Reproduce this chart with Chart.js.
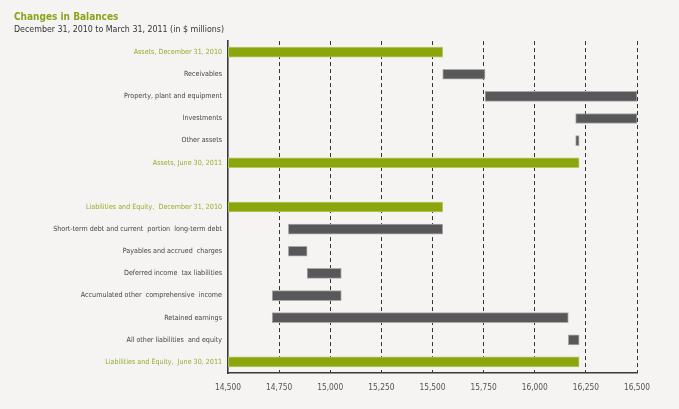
<!DOCTYPE html>
<html>
<head>
<meta charset="utf-8">
<script src="https://cdn.jsdelivr.net/npm/chart.js@4"></script>
<style>
  html, body { margin: 0; padding: 0; background: #f5f4f2; }
  #wrap { width: 679px; height: 409px; }
</style>
</head>
<body>
<div id="wrap"><canvas id="balanceChart" width="679" height="409"></canvas></div>
<script>
// Chart data
const categories = [
  'Assets, December 31, 2010',
  'Receivables',
  'Property, plant and equipment',
  'Investments',
  'Other assets',
  'Assets, June 30, 2011',
  '',
  'Liabilities and Equity,  December 31, 2010',
  'Short-term debt and current  portion  long-term debt',
  'Payables and accrued  charges',
  'Deferred income  tax liabilities',
  'Accumulated other  comprehensive  income',
  'Retained earnings',
  'All other liabilities  and equity',
  'Liabilities and Equity,  June 30, 2011'
];
const barStart = [14500, 15550, 15757, 16200, 16200, 14500, null, 14500, 14795, 14795, 14887, 14716, 14716, 16164, 14500];
const barEnd   = [15550, 15757, 16500, 16500, 16217, 16217, null, 15550, 15550, 14887, 15054, 15054, 16164, 16217, 16217];
const totalRows = [0, 5, 7, 14];
const xTicks = [14500, 14750, 15000, 15250, 15500, 15750, 16000, 16250, 16500];

const green = '#8ba60c';
const grey = '#58585a';
const font = "'Liberation Sans Narrow', 'DejaVu Sans Condensed', sans-serif";

const ctx = document.getElementById('balanceChart').getContext('2d');
new Chart(ctx, {
  type: 'bar',
  data: {
    labels: categories,
    datasets: [{
      data: barStart.map((s, i) => s === null ? null : [s, barEnd[i]]),
      backgroundColor: categories.map((c, i) => totalRows.includes(i) ? green : grey),
      borderColor: categories.map((c, i) => totalRows.includes(i) ? '#b9c96a' : '#a9a9a9'),
      borderWidth: 1,
      borderSkipped: false,
      barThickness: 10
    }]
  },
  options: {
    indexAxis: 'y',
    responsive: false,
    animation: false,
    layout: { padding: { left: 14, right: 42, top: 0, bottom: 0 } },
    scales: {
      x: {
        min: 14500,
        max: 16500,
        afterBuildTicks: scale => { scale.ticks = xTicks.map(v => ({ value: v })); },
        afterFit: scale => { scale.height = 36; },
        grid: {
          color: c => c.tick && c.tick.value === 14500 ? 'rgba(0,0,0,0)' : '#333',
          lineWidth: 1,
          drawTicks: false
        },
        border: { display: true, color: '#3a3a3a', width: 1.6, dash: [4, 3] },
        ticks: {
          padding: 10,
          color: '#555',
          font: { family: font, size: 8.3 },
          callback: v => v.toLocaleString('en-US')
        }
      },
      y: {
        afterFit: scale => { scale.width = 214; },
        grid: { drawOnChartArea: false, drawTicks: false },
        border: { display: true, color: '#3a3a3a', width: 1.6 },
        ticks: {
          padding: 6,
          autoSkip: false,
          color: c => totalRows.includes(c.index) ? '#93ae2c' : '#444',
          font: { family: font, size: 7.1 }
        }
      }
    },
    plugins: {
      legend: { display: false },
      tooltip: { enabled: false },
      title: {
        display: true,
        text: 'Changes in Balances',
        align: 'start',
        color: '#8aa51b',
        font: { family: font, size: 10, weight: 'bold' },
        padding: { top: 11, bottom: 1.5 }
      },
      subtitle: {
        display: true,
        text: 'December 31, 2010 to March 31, 2011 (in $ millions)',
        align: 'start',
        color: '#333',
        font: { family: font, size: 8.8 },
        padding: { top: 0, bottom: 6 }
      }
    }
  }
});
</script>
</body>
</html>
